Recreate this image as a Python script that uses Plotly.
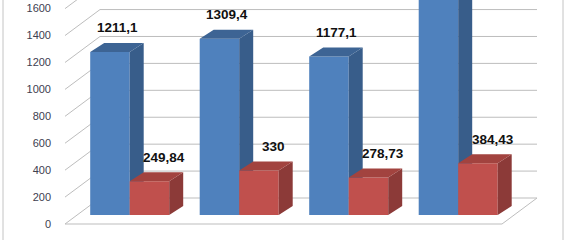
import plotly.graph_objects as go

# ---------------- data ----------------
categories = ["A", "B", "C", "D"]
blue_values = [1211.1, 1309.4, 1177.1, 1800.0]
red_values = [249.84, 330.0, 278.73, 384.43]
blue_labels = ["1211,1", "1309,4", "1177,1", "1800"]
red_labels = ["249,84", "330", "278,73", "384,43"]
tick_values = [0, 200, 400, 600, 800, 1000, 1200, 1400, 1600]
tick_labels = ["0", "200", "400", "600", "800", "1000", "1200", "1400", "1600"]

# ---------------- geometry / style ----------------
W, H = 565, 240
ML = 56
PX_X = 109.5            # pixels per category step
X0_PX = 129.7           # pixel of category 0 (between blue and red)
K = 0.1346              # pixels per value unit
BASE_PX = 215           # pixel of value 0 (bar base)
BAR_W = 39.5 / PX_X
DX = 14 / PX_X          # bar depth (x)
DY = 9 / K              # bar depth (y, in value units)
FLOOR_FRONT = -9 / K
FLOOR_BACK = 17 / K
WALL_DX = 35 / PX_X
WALL_LEFT = (65 - X0_PX) / PX_X
WALL_RIGHT = (502 - X0_PX) / PX_X

x_range = [(ML - X0_PX) / PX_X, (W - X0_PX) / PX_X]
y_range = [(BASE_PX - H) / K, BASE_PX / K]

BLUE = dict(front="#4F81BD", side="#385D8A", top="#3D6494")
RED = dict(front="#C0504D", side="#8C3A38", top="#A2433F")
GRID = "#BDBDBD"

idx = list(range(len(categories)))

fig = go.Figure()


def add_series(values, offset, colors, xa, ya, name):
    fig.add_trace(go.Bar(
        x=idx, y=values, base=0, offset=offset, width=BAR_W,
        marker=dict(color=colors["front"], line=dict(width=0)),
        xaxis=xa, yaxis=ya, name=name, showlegend=False, hoverinfo="skip"))
    sx, sy, tx, ty = [], [], [], []
    for i, v in zip(idx, values):
        xl = i + offset
        xr = xl + BAR_W
        sx += [xr, xr + DX, xr + DX, xr, xr, None]
        sy += [0, DY, v + DY, v, 0, None]
        tx += [xl, xl + DX, xr + DX, xr, xl, None]
        ty += [v, v + DY, v + DY, v, v, None]
    for px, py, c in ((sx, sy, colors["side"]), (tx, ty, colors["top"])):
        fig.add_trace(go.Scatter(
            x=px, y=py, mode="lines", fill="toself", fillcolor=c,
            line=dict(width=0, color=c), xaxis=xa, yaxis=ya,
            showlegend=False, hoverinfo="skip"))


add_series(blue_values, -BAR_W, BLUE, "x", "y", "blue")
add_series(red_values, 0.0, RED, "x2", "y2", "red")

# data labels
for vals, labs, off, shift, lift in ((blue_values, blue_labels, -BAR_W, 7.5, 15),
                                     (red_values, red_labels, 0.0, 15, 15)):
    for i, v, t in zip(idx, vals, labs):
        fig.add_annotation(
            x=i + off + BAR_W / 2 + shift / PX_X, y=v + DY + lift / K,
            xref="x2", yref="y2", text=f"<b>{t}</b>", showarrow=False,
            font=dict(family="Liberation Sans, Arial", size=13.5, color="#111111"),
            xanchor="center", yanchor="middle")

# walls / floor / gridlines (below traces)
shapes = []
for t in tick_values:
    shapes.append(dict(type="line", xref="x", yref="y", layer="below",
                       x0=WALL_LEFT + WALL_DX, x1=WALL_RIGHT + WALL_DX,
                       y0=t + FLOOR_BACK, y1=t + FLOOR_BACK,
                       line=dict(color=GRID, width=1)))
    shapes.append(dict(type="line", xref="x", yref="y", layer="below",
                       x0=WALL_LEFT, x1=WALL_LEFT + WALL_DX,
                       y0=t + FLOOR_FRONT, y1=t + FLOOR_BACK,
                       line=dict(color=GRID, width=1)))
shapes.append(dict(type="line", xref="x", yref="y", layer="below",
                   x0=WALL_LEFT, x1=WALL_RIGHT, y0=FLOOR_FRONT, y1=FLOOR_FRONT,
                   line=dict(color=GRID, width=1)))
shapes.append(dict(type="line", xref="x", yref="y", layer="below",
                   x0=WALL_RIGHT, x1=WALL_RIGHT + WALL_DX, y0=FLOOR_FRONT, y1=FLOOR_BACK,
                   line=dict(color=GRID, width=1)))
# chart border lines
for px in (3, 563):
    xp = (px - ML) / (W - ML)
    shapes.append(dict(type="line", xref="paper", yref="paper",
                       x0=xp, x1=xp, y0=0, y1=1,
                       line=dict(color="#C4C4C4", width=1)))

fig.update_layout(
    width=W, height=H, margin=dict(l=ML, r=0, t=0, b=0),
    paper_bgcolor="white", plot_bgcolor="white",
    shapes=shapes, showlegend=False, barmode="overlay",
    xaxis=dict(range=x_range, visible=False, fixedrange=True),
    yaxis=dict(range=y_range, showgrid=False, zeroline=False, showline=False,
               tickmode="array", tickvals=[t + FLOOR_FRONT for t in tick_values],
               ticktext=tick_labels, ticks="", ticklabelstandoff=4,
               tickfont=dict(family="Liberation Sans, Arial", size=11, color="#404050")),
    xaxis2=dict(range=x_range, visible=False, overlaying="x", fixedrange=True),
    yaxis2=dict(range=y_range, visible=False, overlaying="y"),
)

fig.write_html("out.html")
